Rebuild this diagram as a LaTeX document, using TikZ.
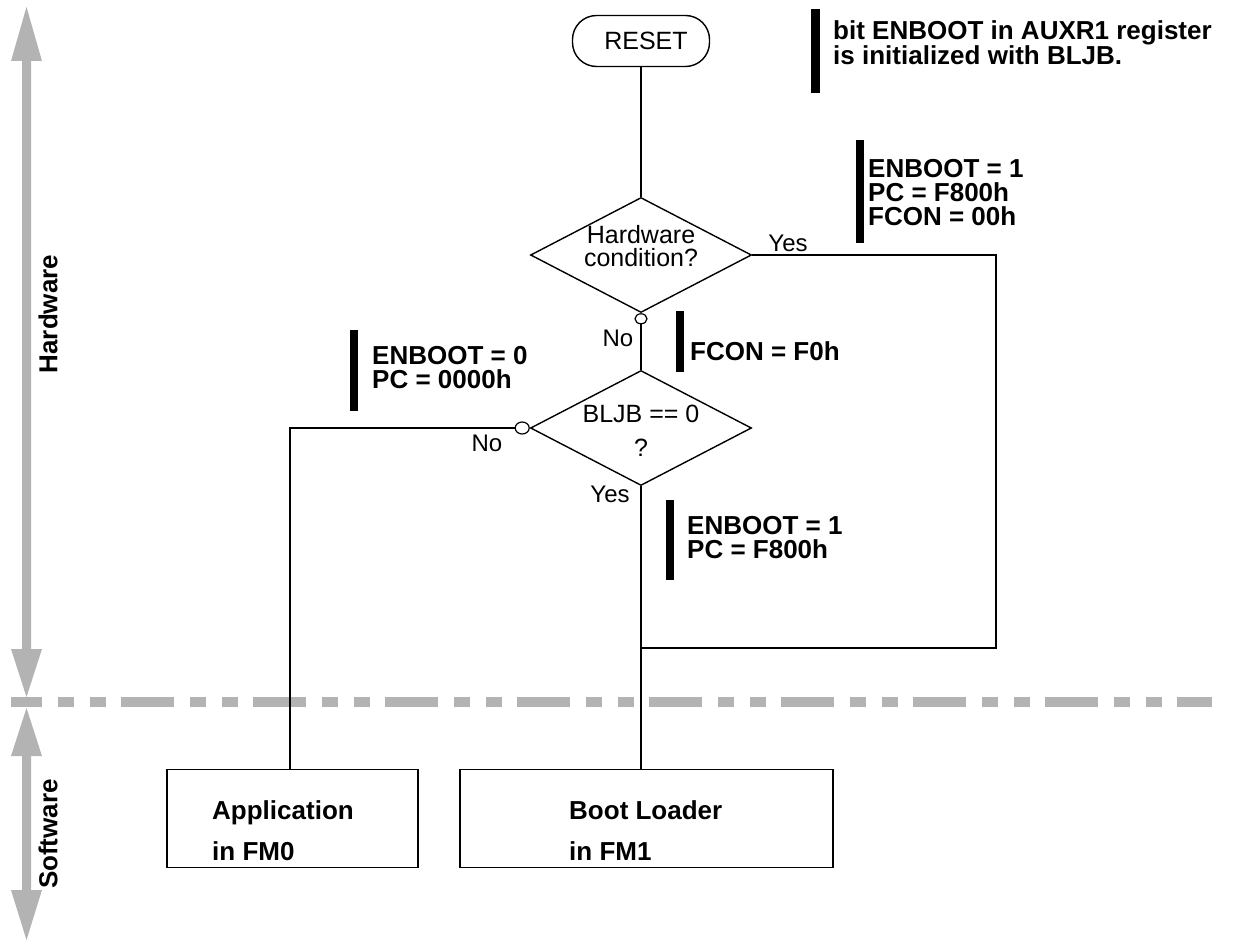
\documentclass[tikz,border=0pt]{standalone}
\usepackage{fontspec}
\setmainfont{Liberation Sans}
\usetikzlibrary{shapes.geometric}
\definecolor{band}{RGB}{179,179,179}
\tikzset{
  flow/.style={line width=1.6pt},
  barmark/.style={fill=black},
  ann/.style={font=\fontsize{26}{24}\selectfont\bfseries, align=left, anchor=west, inner sep=0pt},
  reg/.style={font=\fontsize{25}{23}\selectfont, align=center, inner sep=0pt},
  lab/.style={font=\fontsize{24}{24}\selectfont, inner sep=0pt},
  dec/.style={diamond, draw, line width=1.4pt, minimum width=221pt, minimum height=115pt, inner sep=0pt},
  joint/.style={ellipse, draw, line width=1.2pt, fill=white, minimum width=12pt, minimum height=10pt, inner sep=0pt},
  boxnode/.style={draw, line width=1.6pt, rectangle, inner sep=0pt, minimum height=98pt},
  boxtext/.style={font=\fontsize{26}{41}\selectfont\bfseries, align=left, anchor=north west, inner sep=0pt},
  side/.style={font=\fontsize{26}{26}\selectfont\bfseries, rotate=90, inner sep=0pt},
  startnode/.style={draw, line width=1.4pt, rectangle, rounded corners=24pt, minimum width=137pt, minimum height=51pt, font=\fontsize{25}{25}\selectfont, inner sep=0pt}
}
\begin{document}
\begin{tikzpicture}[x=1pt,y=-1pt]
\useasboundingbox (0,0) rectangle (1242,942);

% gray side arrows
\fill[band] (26.5,7) -- (42,61) -- (31,61) -- (31,649) -- (42,649) -- (26.5,697) -- (11,649) -- (22,649) -- (22,61) -- (11,61) -- cycle;
\fill[band] (26.5,708) -- (42,756) -- (31,756) -- (31,890) -- (42,890) -- (26.5,940) -- (11,890) -- (22,890) -- (22,756) -- (11,756) -- cycle;
\draw[band, line width=10pt, dash pattern=on 53pt off 16pt on 16pt off 16pt on 16pt off 15pt, dash phase=22pt] (11,702) -- (1212,702);

\node[side] (hw) at (48,314) {Hardware};
\node[side] (sw) at (48,834) {Software};

% flowchart
\node[startnode] (reset) at (641,41) {\hspace*{10pt}RESET};
\node[dec] (d1) at (641,255) {};
\node[reg] (d1t) at (641,246) {Hardware\\condition?};
\node[joint, anchor=north] (c1) at (d1.south) {};
\node[dec] (d2) at (641,428) {};
\node[reg, font=\fontsize{25}{34}\selectfont] (d2t) at (641,431) {BLJB == 0\\?};
\node[joint, anchor=east, minimum width=14pt, minimum height=12pt] (c2) at (d2.west) {};

\node[boxnode, minimum width=251pt] (app) at (292.5,818.5) {};
\node[boxnode, minimum width=373pt] (boot) at (646.5,818.5) {};
\node[boxtext] (appt) at (212,800) {Application\\in FM0};
\node[boxtext] (boott) at (569,800) {Boot Loader\\in FM1};

\coordinate (rc) at (996,648);
\coordinate (jn) at (641,648);

\draw[flow] (reset.south) -- (d1.north);
\draw[flow] (d1.east) -| (rc) -- (jn);
\draw[flow] (c1.south) -- (d2.north);
\draw[flow] (c2.west) -| ([xshift=-2.5pt]app.north);
\draw[flow] (d2.south) -- (d2.south |- boot.north);

\node[lab] (y1) at (788,243) {Yes};
\node[lab] (n1) at (618,338) {No};
\node[lab] (n2) at (487,443) {No};
\node[lab] (y2) at (610,494) {Yes};

% annotations
\fill[barmark] (811,9) rectangle (820,93);
\node[ann] (a1) at (833,43) {bit ENBOOT in AUXR1 register\\is initialized with BLJB.};
\fill[barmark] (856,140) rectangle (864,243);
\node[ann] (a2) at (868,193) {ENBOOT = 1\\PC = F800h\\FCON = 00h};
\fill[barmark] (676,311) rectangle (684,372);
\node[ann] (a3) at (690,351) {FCON = F0h};
\fill[barmark] (350,330) rectangle (358,411);
\node[ann] (a4) at (372,368) {ENBOOT = 0\\PC = 0000h};
\fill[barmark] (666,500) rectangle (674,580);
\node[ann] (a5) at (687,538) {ENBOOT = 1\\PC = F800h};
\end{tikzpicture}
\end{document}
